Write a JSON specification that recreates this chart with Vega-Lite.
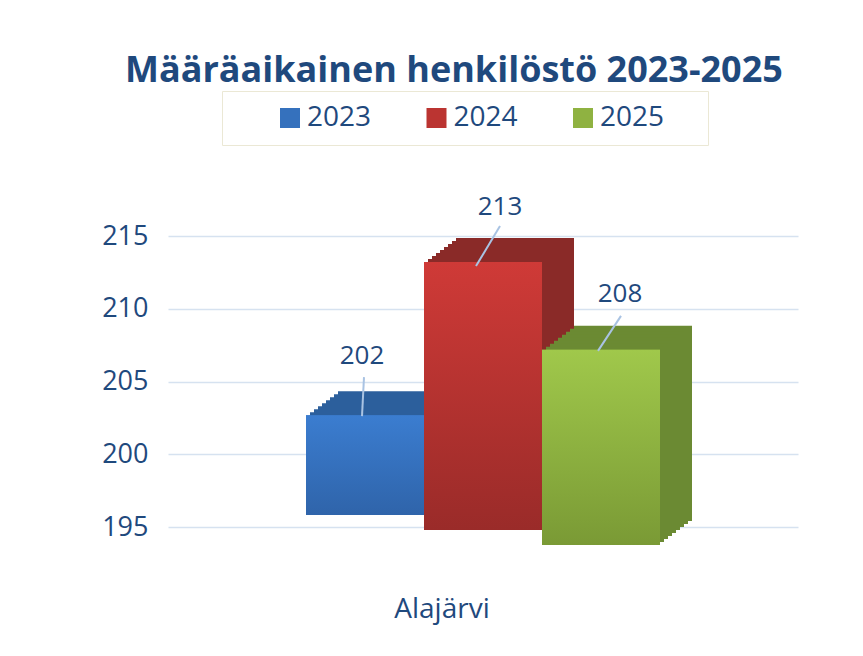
{"$schema":"https://vega.github.io/schema/vega-lite/v6.json","width":630,"height":291,"padding":{"left":168,"top":236,"right":65,"bottom":129},"autosize":{"type":"none"},"background":"#ffffff","data":{"values":[{"kunta":"Alajärvi","vuosi":"2023","arvo":202},{"kunta":"Alajärvi","vuosi":"2024","arvo":213},{"kunta":"Alajärvi","vuosi":"2025","arvo":208}]},"config":{"view":{"stroke":null},"font":"Open Sans"},"title":{"text":"Määräaikainen henkilöstö 2023-2025","font":"Open Sans","fontWeight":"bold","fontSize":36,"color":"#1f497d","anchor":"start","frame":"group","offset":1,"dx":-43},"resolve":{"scale":{"x":"independent"},"axis":{"x":"independent"}},"layer":[{"mark":{"type":"bar","opacity":0},"encoding":{"x":{"field":"kunta","type":"nominal","axis":{"title":null,"labelAngle":0,"labelFontSize":28,"labelColor":"#1f497d","labelPadding":68,"labelOffset":-41,"domain":false,"ticks":false}},"y":{"field":"arvo","type":"quantitative","scale":{"domain":[195,215],"nice":false},"axis":{"title":null,"values":[195,200,205,210,215],"labelFontSize":27,"labelColor":"#1f497d","labelPadding":20,"grid":true,"gridColor":"#d6e2f0","gridWidth":1.5,"domain":false,"ticks":false}},"y2":{"datum":195}}},{"encoding":{"x":{"field":"vuosi","type":"nominal","scale":{"range":[138,492],"paddingInner":0,"paddingOuter":0},"axis":null},"y":{"field":"arvo","type":"quantitative"}},"layer":[{"encoding":{"y2":{"datum":195}},"layer":[{"mark":{"type":"bar","xOffset":32,"yOffset":{"expr":"(datum.vuosi=='2023'?-10:datum.vuosi=='2024'?-3:12)-24"},"y2Offset":{"expr":"(datum.vuosi=='2023'?-12:datum.vuosi=='2024'?3:18)-24"},"fill":{"expr":"datum.vuosi=='2023'?'#2c5f9c':datum.vuosi=='2024'?'#8a2a28':'#6b8a33'"}}},{"mark":{"type":"bar","xOffset":28,"yOffset":{"expr":"(datum.vuosi=='2023'?-10:datum.vuosi=='2024'?-3:12)-21"},"y2Offset":{"expr":"(datum.vuosi=='2023'?-12:datum.vuosi=='2024'?3:18)-21"},"fill":{"expr":"datum.vuosi=='2023'?'#2c5f9c':datum.vuosi=='2024'?'#8a2a28':'#6b8a33'"}}},{"mark":{"type":"bar","xOffset":24,"yOffset":{"expr":"(datum.vuosi=='2023'?-10:datum.vuosi=='2024'?-3:12)-18"},"y2Offset":{"expr":"(datum.vuosi=='2023'?-12:datum.vuosi=='2024'?3:18)-18"},"fill":{"expr":"datum.vuosi=='2023'?'#2c5f9c':datum.vuosi=='2024'?'#8a2a28':'#6b8a33'"}}},{"mark":{"type":"bar","xOffset":20,"yOffset":{"expr":"(datum.vuosi=='2023'?-10:datum.vuosi=='2024'?-3:12)-15"},"y2Offset":{"expr":"(datum.vuosi=='2023'?-12:datum.vuosi=='2024'?3:18)-15"},"fill":{"expr":"datum.vuosi=='2023'?'#2c5f9c':datum.vuosi=='2024'?'#8a2a28':'#6b8a33'"}}},{"mark":{"type":"bar","xOffset":16,"yOffset":{"expr":"(datum.vuosi=='2023'?-10:datum.vuosi=='2024'?-3:12)-12"},"y2Offset":{"expr":"(datum.vuosi=='2023'?-12:datum.vuosi=='2024'?3:18)-12"},"fill":{"expr":"datum.vuosi=='2023'?'#2c5f9c':datum.vuosi=='2024'?'#8a2a28':'#6b8a33'"}}},{"mark":{"type":"bar","xOffset":12,"yOffset":{"expr":"(datum.vuosi=='2023'?-10:datum.vuosi=='2024'?-3:12)-9"},"y2Offset":{"expr":"(datum.vuosi=='2023'?-12:datum.vuosi=='2024'?3:18)-9"},"fill":{"expr":"datum.vuosi=='2023'?'#2c5f9c':datum.vuosi=='2024'?'#8a2a28':'#6b8a33'"}}},{"mark":{"type":"bar","xOffset":8,"yOffset":{"expr":"(datum.vuosi=='2023'?-10:datum.vuosi=='2024'?-3:12)-6"},"y2Offset":{"expr":"(datum.vuosi=='2023'?-12:datum.vuosi=='2024'?3:18)-6"},"fill":{"expr":"datum.vuosi=='2023'?'#2c5f9c':datum.vuosi=='2024'?'#8a2a28':'#6b8a33'"}}},{"mark":{"type":"bar","xOffset":4,"yOffset":{"expr":"(datum.vuosi=='2023'?-10:datum.vuosi=='2024'?-3:12)-3"},"y2Offset":{"expr":"(datum.vuosi=='2023'?-12:datum.vuosi=='2024'?3:18)-3"},"fill":{"expr":"datum.vuosi=='2023'?'#2c5f9c':datum.vuosi=='2024'?'#8a2a28':'#6b8a33'"}}},{"mark":{"type":"bar","yOffset":{"expr":"datum.vuosi=='2023'?-10:datum.vuosi=='2024'?-3:12"},"y2Offset":{"expr":"datum.vuosi=='2023'?-12:datum.vuosi=='2024'?3:18"}},"encoding":{"color":{"field":"vuosi","type":"nominal","scale":{"domain":["2023","2024","2025"],"range":["#3571bd","#bb3431","#8fb241"]},"legend":{"title":" ","titleOrient":"right","titlePadding":31,"orient":"none","legendX":54,"legendY":-145,"direction":"horizontal","columns":3,"columnPadding":9.5,"symbolType":"square","symbolSize":400,"symbolOffset":41,"labelOffset":3,"labelFontSize":28,"labelColor":"#1f497d","fillColor":"#ffffff","strokeColor":"#ebe8d5","padding":13}}}},{"mark":{"type":"bar","yOffset":{"expr":"datum.vuosi=='2023'?-10:datum.vuosi=='2024'?-3:12"},"y2Offset":{"expr":"datum.vuosi=='2023'?-12:datum.vuosi=='2024'?3:18"},"fill":{"expr":"{gradient:'linear',x1:0,y1:0,x2:0,y2:1,stops:datum.vuosi=='2023'?[{offset:0,color:'#3b7dd0'},{offset:1,color:'#2f64aa'}]:datum.vuosi=='2024'?[{offset:0,color:'#cf3a37'},{offset:1,color:'#9a2b29'}]:[{offset:0,color:'#a0c84b'},{offset:1,color:'#7a9a35'}]}"}}}]},{"mark":{"type":"rule","color":"#a9c3e3","strokeWidth":2,"yOffset":{"expr":"datum.vuosi=='2023'?-9:datum.vuosi=='2024'?1:13"},"y2Offset":{"expr":"datum.vuosi=='2023'?-48:datum.vuosi=='2024'?-39:-22"},"xOffset":{"expr":"datum.vuosi=='2023'?-3:datum.vuosi=='2024'?-7:-3"},"x2Offset":{"expr":"datum.vuosi=='2023'?-1:datum.vuosi=='2024'?17:20"}},"encoding":{"x2":{"field":"vuosi"},"y2":{"field":"arvo"}}},{"mark":{"type":"text","fontSize":26,"color":"#1f497d","dy":{"expr":"datum.vuosi=='2023'?-69:datum.vuosi=='2024'?-58:-44"},"dx":{"expr":"datum.vuosi=='2023'?-3:datum.vuosi=='2024'?17:19"}},"encoding":{"text":{"field":"arvo","type":"quantitative"}}}]}]}
